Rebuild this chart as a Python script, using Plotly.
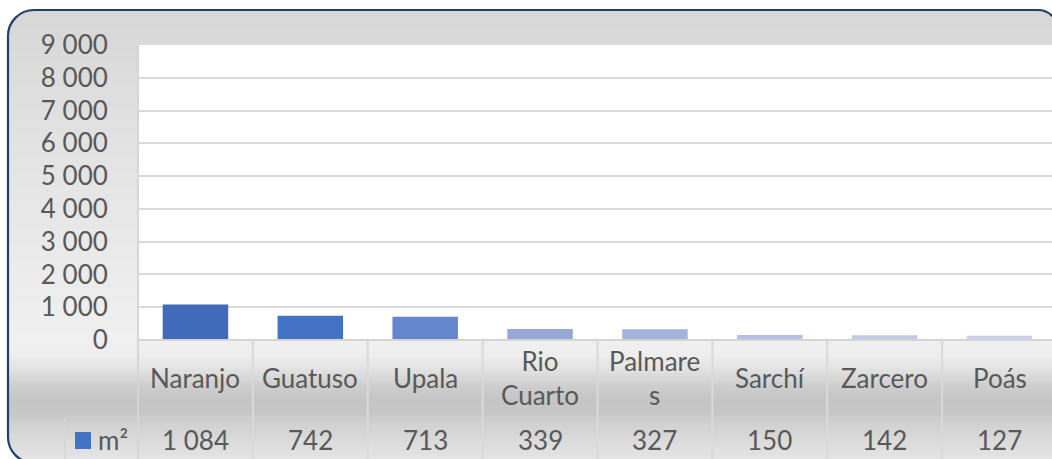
import plotly.graph_objects as go

# ---------------- data ----------------
categories = ["Naranjo", "Guatuso", "Upala", "Rio Cuarto", "Palmares", "Sarchí", "Zarcero", "Poás"]
category_labels = ["Naranjo", "Guatuso", "Upala", "Rio<br>Cuarto", "Palmare<br>s", "Sarchí", "Zarcero", "Poás"]
values = [1084, 742, 713, 339, 327, 150, 142, 127]
series_name = "m²"
y_ticks = [0, 1000, 2000, 3000, 4000, 5000, 6000, 7000, 8000, 9000]

# ---------------- style ----------------
bar_colors = ["#416bba", "#4472c4", "#6585cd", "#96a8d6", "#a3b3da", "#b3bee2", "#c0cae6", "#c9d1ea"]
FONT = "Lato"
TXT = "#595959"
GRID = "#d9d9d9"

W, H = 1052, 459
L, R, T, B = 138, 0, 45, 119
PW, PH = W - L - R, H - T - B


def px(x):
    return (x - L) / PW


def py(y):
    return (H - B - y) / PH


fig = go.Figure()
fig.add_trace(go.Bar(
    x=categories, y=values, marker=dict(color=bar_colors, line=dict(width=0)),
    width=0.57, name=series_name, showlegend=False, hoverinfo="x+y",
))

shapes = []

# background gradient
stops = [(10, 215), (45, 218), (150, 227), (250, 234), (340, 240), (355, 238),
         (370, 226), (385, 207), (400, 197), (416, 199), (420, 206), (440, 219), (463, 230)]


def gray_at(y):
    for (y0, g0), (y1, g1) in zip(stops[:-1], stops[1:]):
        if y0 <= y <= y1:
            t = (y - y0) / (y1 - y0)
            return g0 + (g1 - g0) * t
    return stops[-1][1]


step = 3
y = 10
while y < 463:
    g = int(round(gray_at(y + step / 2)))
    shapes.append(dict(type="rect", xref="paper", yref="paper", layer="below",
                       x0=px(8), x1=px(1060), y0=py(y), y1=py(min(y + step + 0.5, 463)),
                       fillcolor=f"rgb({g},{g},{g})", line=dict(width=0)))
    y += step

# white plot area
shapes.append(dict(type="rect", xref="paper", yref="paper", layer="below",
                   x0=0, x1=1, y0=0, y1=1, fillcolor="white", line=dict(width=0)))

# rounded border geometry
XL, XR, YT, YB = 8, 1058, 10, 463
r1, r2 = 26, 20
k = 0.5523


def P(x, y):
    return f"{px(x):.6f},{py(y):.6f}"


# corner masks (white) to round the gradient
mask_tl = (f"M {P(XL-2, YT-2)} L {P(XL + r1, YT-2)} L {P(XL + r1, YT)} "
           f"C {P(XL + r1 - k*r1, YT)} {P(XL, YT + r1 - k*r1)} {P(XL, YT + r1)} "
           f"L {P(XL-2, YT + r1)} Z")
mask_bl = (f"M {P(XL-2, YB+2)} L {P(XL-2, YB - r1)} L {P(XL, YB - r1)} "
           f"C {P(XL, YB - r1 + k*r1)} {P(XL + r1 - k*r1, YB)} {P(XL + r1, YB)} "
           f"L {P(XL + r1, YB+2)} Z")
mask_tr = (f"M {P(XR+2, YT-2)} L {P(XR - r2, YT-2)} L {P(XR - r2, YT)} "
           f"C {P(XR - r2 + k*r2, YT)} {P(XR, YT + r2 - k*r2)} {P(XR, YT + r2)} "
           f"L {P(XR+2, YT + r2)} Z")
for m in (mask_tl, mask_bl, mask_tr):
    shapes.append(dict(type="path", xref="paper", yref="paper", layer="below",
                       path=m, fillcolor="white", line=dict(width=0)))

# table lines
ncat = len(categories)
for i in range(1, ncat + 1):
    shapes.append(dict(type="line", xref="x", yref="paper", layer="below",
                       x0=i - 0.5, x1=i - 0.5, y0=py(341), y1=py(470),
                       line=dict(color="#dadada", width=2)))
shapes.append(dict(type="line", xref="paper", yref="paper", layer="below",
                   x0=px(138), x1=px(138), y0=py(45), y1=py(470),
                   line=dict(color="#d6d6d6", width=2)))
shapes.append(dict(type="line", xref="paper", yref="paper", layer="below",
                   x0=px(65), x1=px(65), y0=py(417), y1=py(470),
                   line=dict(color="#d6d6d6", width=1.5)))
shapes.append(dict(type="line", xref="paper", yref="paper", layer="below",
                   x0=px(65), x1=px(1060), y0=py(417), y1=py(417),
                   line=dict(color="#d3d3d3", width=1)))
# baseline
shapes.append(dict(type="line", xref="paper", yref="paper", layer="above",
                   x0=0, x1=1, y0=py(340), y1=py(340),
                   line=dict(color="#d4d4d4", width=2)))

# legend key
shapes.append(dict(type="rect", xref="paper", yref="paper", layer="above",
                   x0=px(75), x1=px(91), y0=py(449), y1=py(432),
                   fillcolor="#4472c4", line=dict(width=0)))

# border
border = (f"M {P(XL + r1, YT)} L {P(XR - r2, YT)} "
          f"C {P(XR - r2 + k*r2, YT)} {P(XR, YT + r2 - k*r2)} {P(XR, YT + r2)} "
          f"L {P(XR, YB)} L {P(XL + r1, YB)} "
          f"C {P(XL + r1 - k*r1, YB)} {P(XL, YB - r1 + k*r1)} {P(XL, YB - r1)} "
          f"L {P(XL, YT + r1)} "
          f"C {P(XL, YT + r1 - k*r1)} {P(XL + r1 - k*r1, YT)} {P(XL + r1, YT)} Z")
shapes.append(dict(type="path", xref="paper", yref="paper", layer="above",
                   path=border, line=dict(color="#22406e", width=2.2)))

annotations = []
for i, (lab, v) in enumerate(zip(category_labels, values)):
    annotations.append(dict(x=i, xref="x", y=py(378), yref="paper", text=lab,
                            showarrow=False, xanchor="center", yanchor="middle",
                            font=dict(family=FONT, size=26, color=TXT)))
    annotations.append(dict(x=i, xref="x", y=py(440), yref="paper",
                            text=f"{v:,}".replace(",", " "),
                            showarrow=False, xanchor="center", yanchor="middle",
                            font=dict(family=FONT, size=26, color=TXT)))
annotations.append(dict(x=px(96), xref="paper", y=py(440), yref="paper", text=series_name,
                        showarrow=False, xanchor="left", yanchor="middle",
                        font=dict(family=FONT, size=26, color=TXT)))

fig.update_layout(
    width=W, height=H, autosize=False,
    margin=dict(l=L, r=R, t=T, b=B, pad=0),
    paper_bgcolor="white", plot_bgcolor="rgba(0,0,0,0)",
    separators=". ",
    font=dict(family=FONT, size=26, color=TXT),
    shapes=shapes, annotations=annotations,
    bargap=0.43,
    xaxis=dict(range=[-0.5, ncat - 0.5 - 5 / 114.9], showticklabels=False, showgrid=False,
               zeroline=False, showline=False, ticks="", fixedrange=True),
    yaxis=dict(range=[0, 9000], tickvals=y_ticks, tickformat=",d", showgrid=True,
               gridcolor=GRID, gridwidth=1.5, zeroline=False, showline=False,
               ticks="outside", ticklen=24, tickcolor="rgba(0,0,0,0)",
               tickfont=dict(family=FONT, size=26, color=TXT), fixedrange=True),
)

fig.write_html(
    "out.html",
    config={"displayModeBar": False},
    post_script="document.body.style.margin='0px';document.body.style.overflow='hidden';",
)
